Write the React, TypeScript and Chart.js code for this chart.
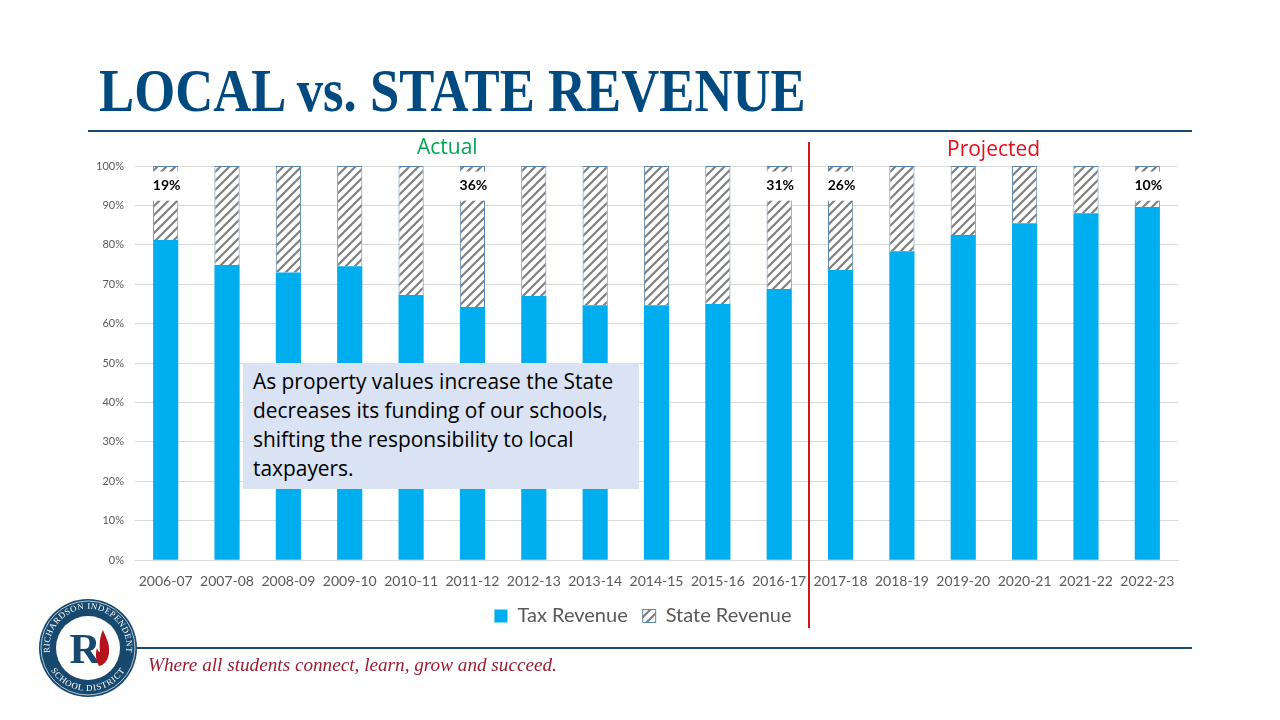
import React, { useEffect, useRef } from "react";
import { Chart, registerables } from "chart.js";

Chart.register(...registerables);

const years = [
  "2006-07", "2007-08", "2008-09", "2009-10", "2010-11", "2011-12",
  "2012-13", "2013-14", "2014-15", "2015-16", "2016-17", "2017-18",
  "2018-19", "2019-20", "2020-21", "2021-22", "2022-23",
];
const taxRevenue = [81.2, 74.9, 73, 74.6, 67.3, 64.2, 67, 64.7, 64.7, 65, 68.8, 73.6, 78.4, 82.5, 85.5, 88, 89.6];
const stateRevenue = [18.8, 25.1, 27, 25.4, 32.7, 35.8, 33, 35.3, 35.3, 35, 31.2, 26.4, 21.6, 17.5, 14.5, 12, 10.4];
const shareLabels = ["19%", null, null, null, null, "36%", null, null, null, null, "31%", "26%", null, null, null, null, "10%"];

const NAVY = "#17496f";
const AXIS_FONT = "Lato, Carlito, sans-serif";
const TEXT_FONT = "'Open Sans', sans-serif";

// gray diagonal stripes on white, same look as the Office "wide upward diagonal" fill
function makeHatch(ctx: CanvasRenderingContext2D) {
  const s = 9;
  const tile = document.createElement("canvas");
  tile.width = s;
  tile.height = s;
  const t = tile.getContext("2d")!;
  t.fillStyle = "#fff";
  t.fillRect(0, 0, s, s);
  t.strokeStyle = "#7f7f7f";
  t.lineWidth = 2.2;
  t.beginPath();
  t.moveTo(-2, s + 2);
  t.lineTo(s + 2, -2);
  t.moveTo(-2, 2);
  t.lineTo(2, -2);
  t.moveTo(s - 2, s + 2);
  t.lineTo(s + 2, s - 2);
  t.stroke();
  return ctx.createPattern(tile, "repeat")!;
}

// white boxes with the state share, they cut into the top of the hatched bar
const shareLabelPlugin = {
  id: "shareLabels",
  afterDatasetsDraw(chart: any) {
    const { ctx, scales } = chart;
    ctx.save();
    shareLabels.forEach((label, i) => {
      if (!label) return;
      const x = scales.x.getPixelForValue(i);
      const top = scales.y.getPixelForValue(98.6);
      const bottom = scales.y.getPixelForValue(91.2);
      ctx.fillStyle = "#fff";
      ctx.fillRect(x - 16, top, 32, bottom - top);
      ctx.fillStyle = "#000";
      ctx.font = "bold 14px " + AXIS_FONT;
      ctx.textAlign = "center";
      ctx.textBaseline = "middle";
      ctx.fillText(label, x + 1, scales.y.getPixelForValue(95));
    });
    ctx.restore();
  },
};

// the legend sits under the plot, not under the whole canvas
const legendShiftPlugin = {
  id: "legendShift",
  afterLayout(chart: any) {
    chart.legend.left += 54;
    chart.legend.right += 54;
    chart.legend.top -= 4;
    chart.legend.bottom -= 4;
  },
};

function Logo() {
  return (
    <svg width="100" height="100" viewBox="0 0 100 100" style={{ position: "absolute", left: 38, top: 598 }}>
      <circle cx="50" cy="50" r="49" fill={NAVY} />
      <circle cx="50" cy="50" r="47" fill="none" stroke="#fff" strokeWidth="0.7" />
      <circle cx="50" cy="50" r="32" fill="#fff" />
      <defs>
        <path id="logoTop" d="M 13 60 A 38.5 38.5 0 1 1 87 60" />
        <path id="logoBottom" d="M 8 62 A 44 44 0 0 0 92 62" />
      </defs>
      <text fill="#fff" fontFamily="'Liberation Serif', serif" fontSize="8.8" letterSpacing="0.5">
        <textPath href="#logoTop" startOffset="50%" textAnchor="middle">RICHARDSON INDEPENDENT</textPath>
      </text>
      <text fill="#fff" fontFamily="'Liberation Serif', serif" fontSize="8.8" letterSpacing="0.8">
        <textPath href="#logoBottom" startOffset="50%" textAnchor="middle">SCHOOL DISTRICT</textPath>
      </text>
      <text x="47" y="65" textAnchor="middle" fill={NAVY} fontFamily="'Liberation Serif', serif" fontSize="43" fontWeight="bold">R</text>
      <path d="M 65 32 C 68 40 72 45 71 55 C 70 63 66 67 61 68 C 58 63 57 56 59 50 C 60 53 61 54 62 54 C 61 46 62 38 65 32 Z" fill="#b5121b" />
    </svg>
  );
}

export default function App() {
  const canvasRef = useRef<HTMLCanvasElement>(null);

  useEffect(() => {
    const ctx = canvasRef.current?.getContext("2d");
    if (!ctx) return;
    const chart = new Chart(ctx, {
      type: "bar",
      data: {
        labels: years,
        datasets: [
          {
            label: "Tax Revenue",
            data: taxRevenue,
            backgroundColor: "#00aeef",
            borderWidth: 0,
          },
          {
            label: "State Revenue",
            data: stateRevenue,
            backgroundColor: makeHatch(ctx),
            borderColor: "#5b87ad",
            borderWidth: 1,
          },
        ],
      },
      options: {
        animation: false,
        responsive: false,
        layout: { padding: { top: 166, left: 0, right: 102, bottom: 80 } },
        datasets: { bar: { barPercentage: 0.41, categoryPercentage: 1 } },
        plugins: {
          tooltip: { enabled: false },
          legend: {
            position: "bottom",
            labels: {
              boxWidth: 13,
              boxHeight: 13,
              padding: 15,
              color: "#595959",
              font: { family: AXIS_FONT, size: 20 },
            },
          },
        },
        scales: {
          x: {
            stacked: true,
            grid: { display: false },
            border: { color: "#d9d9d9" },
            ticks: {
              color: "#595959",
              font: { family: AXIS_FONT, size: 14 },
              maxRotation: 0,
              autoSkip: false,
              padding: 5,
            },
          },
          y: {
            stacked: true,
            min: 0,
            max: 100,
            afterFit: (scale: any) => {
              scale.width = 135;
            },
            grid: { color: "#d9d9d9", drawTicks: false },
            border: { display: false },
            ticks: {
              stepSize: 10,
              color: "#595959",
              font: { family: AXIS_FONT, size: 11 },
              padding: 11,
              callback: (v: any) => v + "%",
            },
          },
        },
      },
      plugins: [shareLabelPlugin, legendShiftPlugin],
    } as any);
    return () => chart.destroy();
  }, []);

  return (
    <div style={{ position: "fixed", left: 0, top: 0, width: 1280, height: 720, background: "#fff", overflow: "hidden" }}>
      <canvas ref={canvasRef} width={1280} height={720} style={{ position: "absolute", left: 0, top: 0, width: 1280, height: 720 }} />
      <div style={{ position: "absolute", left: 99, top: 54, fontFamily: "'Liberation Serif', serif", fontWeight: "bold", fontSize: 62, lineHeight: "72px", color: "#004a80", whiteSpace: "nowrap", transform: "scaleX(0.85)", transformOrigin: "left top" }}>
        LOCAL vs. STATE REVENUE
      </div>
      <div style={{ position: "absolute", left: 88, top: 130, width: 1104, height: 2, background: NAVY }} />
      <div style={{ position: "absolute", left: 137, top: 647, width: 1055, height: 2, background: NAVY }} />
      <div style={{ position: "absolute", left: 417, top: 133, fontFamily: TEXT_FONT, fontSize: 21, lineHeight: "27px", color: "#00a651" }}>Actual</div>
      <div style={{ position: "absolute", left: 947, top: 135, fontFamily: TEXT_FONT, fontSize: 21, lineHeight: "27px", color: "#e0101a" }}>Projected</div>
      <div style={{ position: "absolute", left: 808, top: 142, width: 2, height: 486, background: "#d2151f" }} />
      <div style={{ position: "absolute", left: 243, top: 363, width: 396, height: 126, background: "#dae3f3", boxSizing: "border-box", padding: "4px 10px", fontFamily: TEXT_FONT, fontSize: 20.9, lineHeight: "29px", color: "#000", whiteSpace: "nowrap" }}>
        As property values increase the State<br />
        decreases its funding of our schools,<br />
        shifting the responsibility to local<br />
        taxpayers.
      </div>
      <div style={{ position: "absolute", left: 148, top: 653, fontFamily: "'Liberation Serif', serif", fontStyle: "italic", fontSize: 19.2, lineHeight: "24px", color: "#9b1c31", whiteSpace: "nowrap" }}>
        Where all students connect, learn, grow and succeed.
      </div>
      <Logo />
    </div>
  );
}
